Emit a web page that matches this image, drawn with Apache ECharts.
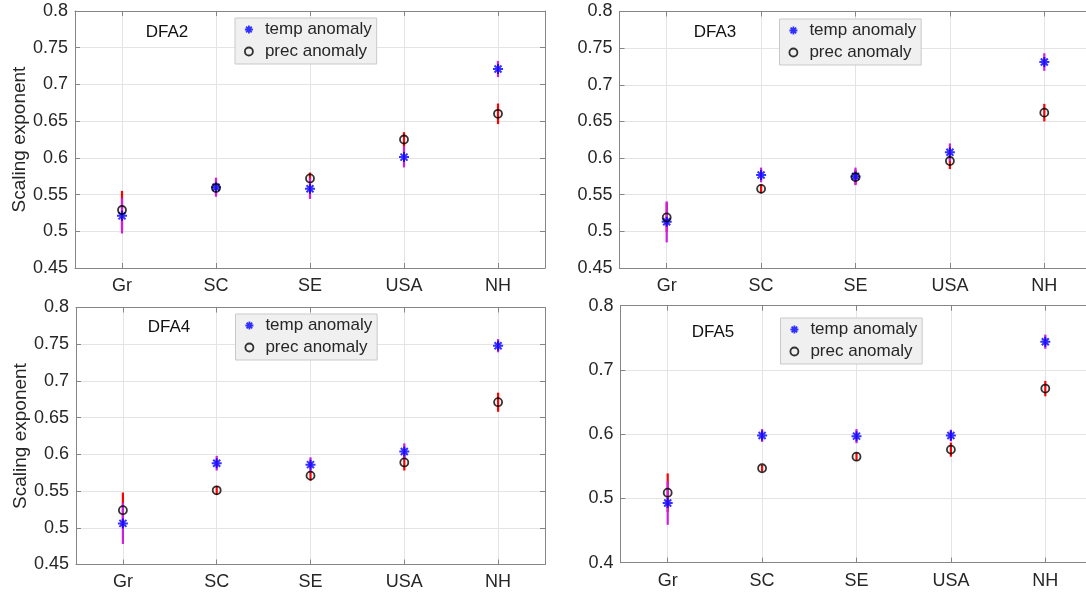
<!DOCTYPE html>
<html><head><meta charset="utf-8">
<script src="https://cdn.jsdelivr.net/npm/echarts@6/dist/echarts.min.js"></script>
<style>html,body{margin:0;padding:0;background:#fff;overflow:hidden}#c{width:1100px;height:595px}</style>
</head><body><div id="c"></div>
<script>
// ---------------- data ----------------
const categories = ['Gr', 'SC', 'SE', 'USA', 'NH'];
const panelNames = ['DFA2', 'DFA3', 'DFA4', 'DFA5'];

const tempDFA2    = [0.521, 0.560, 0.558, 0.601, 0.721];
const tempErrDFA2 = [0.024, 0.013, 0.014, 0.014, 0.011];
const precDFA2    = [0.529, 0.559, 0.572, 0.625, 0.660];
const precErrDFA2 = [0.026, 0.010, 0.008, 0.010, 0.014];

const tempDFA3    = [0.513, 0.577, 0.575, 0.608, 0.731];
const tempErrDFA3 = [0.028, 0.010, 0.012, 0.012, 0.012];
const precDFA3    = [0.519, 0.558, 0.574, 0.596, 0.662];
const precErrDFA3 = [0.020, 0.006, 0.010, 0.011, 0.012];

const tempDFA4    = [0.506, 0.588, 0.586, 0.604, 0.748];
const tempErrDFA4 = [0.028, 0.010, 0.010, 0.011, 0.009];
const precDFA4    = [0.524, 0.551, 0.571, 0.589, 0.671];
const precErrDFA4 = [0.024, 0.006, 0.007, 0.011, 0.013];

const tempDFA5    = [0.493, 0.598, 0.597, 0.598, 0.744];
const tempErrDFA5 = [0.034, 0.010, 0.011, 0.009, 0.011];
const precDFA5    = [0.509, 0.547, 0.565, 0.576, 0.671];
const precErrDFA5 = [0.030, 0.005, 0.006, 0.011, 0.012];

const yMinList  = [0.45, 0.45, 0.45, 0.4];
const yMaxList  = [0.8, 0.8, 0.8, 0.8];
const yStepList = [0.05, 0.05, 0.05, 0.1];

const tempAll = [tempDFA2, tempDFA3, tempDFA4, tempDFA5];
const tempErrAll = [tempErrDFA2, tempErrDFA3, tempErrDFA4, tempErrDFA5];
const precAll = [precDFA2, precDFA3, precDFA4, precDFA5];
const precErrAll = [precErrDFA2, precErrDFA3, precErrDFA4, precErrDFA5];

// ---------------- layout / style ----------------
const FONT = "'Liberation Sans', Arial, Helvetica, sans-serif";
const TXT = '#262626';
const AX = '#858585';
const GRIDC = '#e4e4e4';
const STAR = 'path://M5,0L5,10M0,5L10,5M1.5,1.5L8.5,8.5M1.5,8.5L8.5,1.5';
const TEMP_COLOR = '#0000ff';
const TEMP_BAR = '#cc1fe0';
const PREC_BAR = '#ff0000';

const gridBoxes = [
  {left: 75,    top: 11,    width: 470, height: 257},
  {left: 619.5, top: 11.5,  width: 472, height: 256.5},
  {left: 76,    top: 307.5, width: 469, height: 257},
  {left: 620.5, top: 305.7, width: 472, height: 257}
];
const legendPos = [
  {left: 235, top: 18},
  {left: 779.5, top: 19},
  {left: 235.5, top: 314},
  {left: 780.5, top: 318}
];
const labelPos = [[167, 32], [715, 32], [169, 327], [713, 332]];

const option = {
  animation: false,
  backgroundColor: '#fff',
  textStyle: {fontFamily: FONT},
  grid: [], xAxis: [], yAxis: [], series: [], legend: [], graphic: []
};

function errBar(color) {
  return function (params, api) {
    const x = api.value(0), y = api.value(1), e = api.value(2);
    const p1 = api.coord([x, y - e]);
    const p2 = api.coord([x, y + e]);
    return {type: 'line', shape: {x1: p1[0], y1: p1[1], x2: p2[0], y2: p2[1]},
            style: {stroke: color, lineWidth: 2.2}};
  };
}

for (let i = 0; i < 4; i++) {
  option.grid.push(Object.assign({show: false}, gridBoxes[i]));
  const tickStyle = {show: true, inside: true, length: 5, alignWithLabel: true, interval: 0, lineStyle: {color: AX}};
  option.xAxis.push({
    gridIndex: i, type: 'category', data: categories, position: 'bottom', boundaryGap: true,
    axisLine: {show: true, lineStyle: {color: AX, width: 1}},
    axisTick: tickStyle,
    axisLabel: {show: true, interval: 0, fontSize: 18, color: TXT, margin: 9, fontFamily: FONT},
    splitLine: {show: true, alignWithLabel: true, interval: 0, lineStyle: {color: GRIDC, width: 1}}
  });
  option.xAxis.push({
    gridIndex: i, type: 'category', data: categories, position: 'top', boundaryGap: true,
    axisLine: {show: true, onZero: false, lineStyle: {color: AX, width: 1}},
    axisTick: tickStyle, axisLabel: {show: false}, splitLine: {show: false}
  });
  const yl = {
    gridIndex: i, type: 'value', min: yMinList[i], max: yMaxList[i], interval: yStepList[i], position: 'left',
    axisLine: {show: true, onZero: false, lineStyle: {color: AX, width: 1}},
    axisTick: {show: true, inside: true, length: 5, lineStyle: {color: AX}},
    axisLabel: {show: true, fontSize: 18, color: TXT, margin: 7, fontFamily: FONT},
    splitLine: {show: true, showMinLine: false, showMaxLine: false, lineStyle: {color: GRIDC, width: 1}}
  };
  if (i % 2 === 0) {
    yl.name = 'Scaling exponent';
    yl.nameLocation = 'middle';
    yl.nameGap = 45;
    yl.nameTextStyle = {fontSize: 19, color: TXT, fontFamily: FONT};
  }
  option.yAxis.push(yl);
  const rightVisible = (i % 2 === 0);
  option.yAxis.push({
    gridIndex: i, type: 'value', min: yMinList[i], max: yMaxList[i], interval: yStepList[i], position: 'right',
    show: rightVisible,
    axisLine: {show: true, onZero: false, lineStyle: {color: AX, width: 1}},
    axisTick: {show: true, inside: true, length: 5, lineStyle: {color: AX}},
    axisLabel: {show: false}, splitLine: {show: false}
  });

  const xi = i * 2, yi = i * 2;
  option.series.push({
    name: 'prec err', type: 'custom', xAxisIndex: xi, yAxisIndex: yi, z: 3, silent: true,
    renderItem: errBar(PREC_BAR), encode: {x: 0, y: 1},
    data: categories.map((c, j) => [j, precAll[i][j], precErrAll[i][j]])
  });
  option.series.push({
    name: 'temp err', type: 'custom', xAxisIndex: xi, yAxisIndex: yi, z: 4, silent: true,
    renderItem: errBar(TEMP_BAR), encode: {x: 0, y: 1},
    data: categories.map((c, j) => [j, tempAll[i][j], tempErrAll[i][j]])
  });
  option.series.push({
    name: 'temp anomaly', type: 'scatter', xAxisIndex: xi, yAxisIndex: yi, z: 5, silent: true,
    symbol: STAR, symbolSize: 10,
    itemStyle: {color: TEMP_COLOR, borderColor: TEMP_COLOR, borderWidth: 2},
    data: tempAll[i]
  });
  option.series.push({
    name: 'prec anomaly', type: 'scatter', xAxisIndex: xi, yAxisIndex: yi, z: 6, silent: true,
    symbol: 'circle', symbolSize: 8,
    itemStyle: {color: 'rgba(0,0,0,0)', borderColor: '#000', borderWidth: 1.8},
    data: precAll[i]
  });

  option.legend.push({
    orient: 'vertical', left: legendPos[i].left, top: legendPos[i].top,
    padding: [3, 5, 4, 9], itemGap: 5, itemWidth: 22, itemHeight: 8,
    backgroundColor: '#f0f0f0', borderColor: '#c9c9c9', borderWidth: 1, borderRadius: 0,
    selectedMode: false,
    textStyle: {fontSize: 17, color: TXT, fontFamily: FONT, lineHeight: 17},
    data: [
      {name: 'temp anomaly', icon: STAR, itemStyle: {color: TEMP_COLOR, borderColor: TEMP_COLOR, borderWidth: 1.8}},
      {name: 'prec anomaly', icon: 'circle', itemStyle: {color: 'rgba(0,0,0,0)', borderColor: '#000', borderWidth: 1.8}}
    ]
  });

  option.graphic.push({
    type: 'text', x: labelPos[i][0], y: labelPos[i][1], z: 10,
    style: {text: panelNames[i], fill: '#111', font: '17px ' + FONT, textAlign: 'center', textVerticalAlign: 'middle'}
  });
}

const chart = echarts.init(document.getElementById('c'), null, {renderer: 'canvas'});
chart.setOption(option);
</script>
</body></html>
